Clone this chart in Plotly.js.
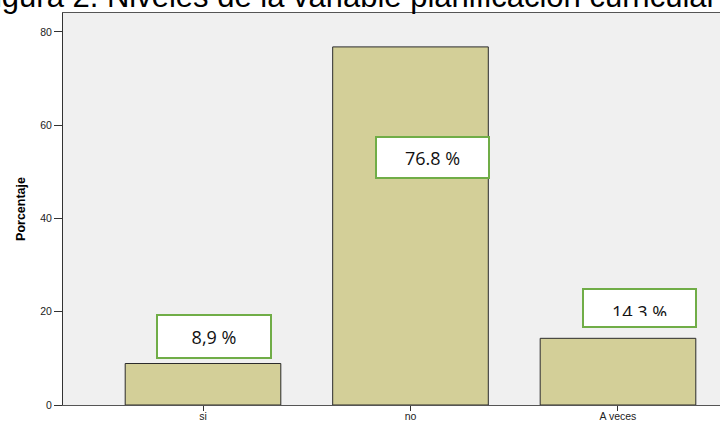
<!DOCTYPE html>
<html>
<head>
<meta charset="utf-8">
<script src="https://cdn.plot.ly/plotly-3.0.1.min.js"></script>
<style>html,body{margin:0;padding:0;background:#fff;}#chart{width:720px;height:423px;}</style>
</head>
<body>
<div id="chart"></div>
<script>
// Data
var categories = ["si", "no", "A veces"];
var percentages = [8.9, 76.8, 14.3];
var valueLabels = ["8,9 %", "76.8 %", "14.3 %"];
var labelY = [14.7, 53.1, 20.7];
var yTicks = [0, 20, 40, 60, 80];
var chartTitle = "Figura 2. Niveles de la variable planificación curricular";
var yTitle = "Porcentaje";

var trace = {
  type: "bar",
  x: categories,
  y: percentages,
  width: 0.75,
  marker: { color: "#d3cf98", line: { color: "#2b2b2b", width: 1 } },
  hoverinfo: "none"
};

var labelStyles = [
  { xshift: 11, pad: 8, w: 96, h: 25, valign: "middle" },
  { xshift: 22, pad: 7, w: 97, h: 25, valign: "middle" },
  { xshift: 22, pad: 10, w: 91, h: 16, valign: "top" }
];

var annotations = valueLabels.map(function (t, i) {
  var s = labelStyles[i];
  return {
    xref: "x", yref: "y",
    x: categories[i], y: labelY[i],
    xshift: s.xshift,
    xanchor: "center", yanchor: "middle",
    text: t, showarrow: false,
    font: { family: "Open Sans", size: 18, color: "#111" },
    bgcolor: "#ffffff",
    bordercolor: "#70ad47",
    borderwidth: 2,
    borderpad: s.pad,
    width: s.w, height: s.h,
    valign: s.valign
  };
});

annotations.push({
  xref: "paper", yref: "paper",
  x: -0.136, y: 0.993,
  xanchor: "left", yanchor: "bottom",
  text: chartTitle, showarrow: false,
  font: { family: "Liberation Sans, Arial", size: 31, color: "#000" }
});

var layout = {
  width: 720, height: 423,
  margin: { l: 63, r: 0, t: 13, b: 18, pad: 0 },
  paper_bgcolor: "#ffffff",
  plot_bgcolor: "#f0f0f0",
  showlegend: false,
  bargap: 0.25,
  xaxis: {
    type: "category",
    range: [-0.6747, 2.4916],
    showline: true, linecolor: "#555", linewidth: 1, mirror: true,
    ticks: "outside", ticklen: 5, tickcolor: "#333", tickwidth: 1,
    ticklabelstandoff: -4,
    showgrid: false, zeroline: false,
    tickfont: { family: "Liberation Sans, Arial", size: 10.5, color: "#222" },
    fixedrange: true
  },
  yaxis: {
    range: [0, 84.07],
    tickvals: yTicks,
    showline: true, linecolor: "#333", linewidth: 1,
    ticks: "outside", ticklen: 8, tickcolor: "#333", tickwidth: 1,
    showgrid: false, zeroline: false,
    tickfont: { family: "Liberation Sans, Arial", size: 10.5, color: "#222" },
    title: { text: "<b>" + yTitle + "</b>", standoff: 11,
             font: { family: "Liberation Sans, Arial", size: 12.5, color: "#000" } },
    automargin: false,
    fixedrange: true
  },
  annotations: annotations
};

Plotly.newPlot("chart", [trace], layout, { displayModeBar: false, staticPlot: true });
</script>
</body>
</html>
